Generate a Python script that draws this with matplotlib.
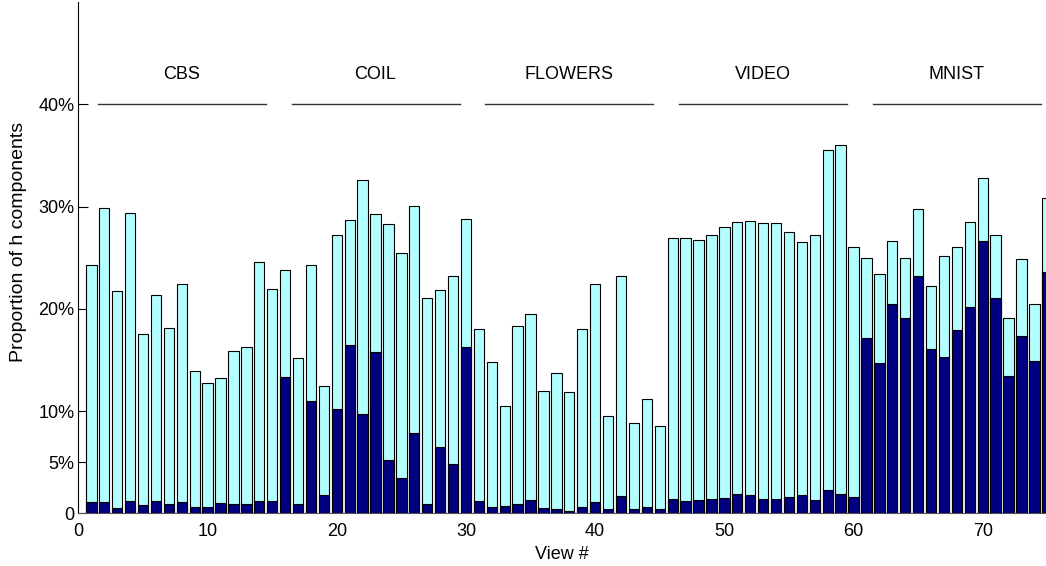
import matplotlib
matplotlib.use("Agg")
import matplotlib.pyplot as plt
import numpy as np

plt.rcParams['font.family'] = ['Liberation Sans', 'DejaVu Sans']

views = list(range(1, 76))
total = [24.27, 29.88, 21.77, 29.42, 17.56, 21.34, 18.15, 22.45, 13.95, 12.77,
         13.26, 15.84, 16.23, 24.60, 21.93,
         23.82, 15.15, 24.31, 12.48, 27.24, 28.64, 32.58, 29.29, 28.28, 25.51,
         30.04, 21.02, 21.86, 23.23, 28.80,
         18.05, 14.79, 10.46, 18.35, 19.52, 11.99, 13.78, 11.83, 18.05, 22.48,
         9.51, 23.23, 8.80, 11.21, 8.54,
         26.95, 26.95, 26.78, 27.21, 28.02, 28.45, 28.58, 28.35, 28.35, 27.53,
         26.49, 27.21, 35.52, 36.00, 26.07,
         24.93, 23.40, 26.59, 25.02, 29.75, 22.25, 25.19, 26.07, 28.51, 32.81,
         27.21, 19.06, 24.89, 20.46, 30.79]
partial = [1.08, 1.14, 0.55, 1.21, 0.78, 1.21, 0.91, 1.14, 0.68, 0.62,
           1.04, 0.88, 0.88, 1.21, 1.21,
           13.33, 0.91, 10.95, 1.76, 10.17, 16.45, 9.71, 15.80, 5.21, 3.49,
           7.82, 0.88, 6.52, 4.86, 16.23,
           1.24, 0.62, 0.72, 0.88, 1.30, 0.49, 0.42, 0.29, 0.65, 1.14,
           0.46, 1.69, 0.39, 0.68, 0.42,
           1.40, 1.21, 1.30, 1.40, 1.53, 1.89, 1.79, 1.40, 1.43, 1.60,
           1.79, 1.30, 2.25, 1.86, 1.60,
           17.17, 14.70, 20.46, 19.09, 23.20, 16.03, 15.25, 17.95, 20.23, 26.62,
           21.11, 13.46, 17.30, 14.89, 23.56]
groups = ["CBS", "COIL", "FLOWERS", "VIDEO", "MNIST"]
group_centers = [8, 23, 38, 53, 68]
yticks = [0, 0.05, 0.10, 0.20, 0.30, 0.40]
ytick_labels = ["0", "5%", "10%", "20%", "30%", "40%"]
xticks = [0, 10, 20, 30, 40, 50, 60, 70]

fig = plt.figure(figsize=(10.46, 5.66), dpi=100)
ax = fig.add_axes([0.075, 0.0928, 0.925, 0.9037])

x = np.array(views)
ax.bar(x, np.array(total) / 100, width=0.8, color='#b3ffff', edgecolor='black', linewidth=0.8, zorder=2)
ax.bar(x, np.array(partial) / 100, width=0.8, color='#000080', edgecolor='black', linewidth=0.8, zorder=3)

for name, c in zip(groups, group_centers):
    ax.plot([c - 6.5, c + 6.5], [0.40, 0.40], color='#333333', linewidth=1.0, zorder=4)
    ax.text(c, 0.429, name, ha='center', va='center', fontsize=13)

ax.set_xlim(0, 74.9)
ax.set_ylim(0, 0.5)
ax.set_yticks(yticks)
ax.set_yticklabels(ytick_labels, fontsize=13)
ax.set_xticks(xticks)
ax.set_xticklabels([str(t) for t in xticks], fontsize=13)
ax.tick_params(axis='y', direction='in', length=7, width=0.8, pad=3)
ax.tick_params(axis='x', length=0, pad=7)
ax.spines['top'].set_visible(False)
ax.spines['right'].set_visible(False)
ax.spines['bottom'].set_color('#555555')
ax.spines['left'].set_linewidth(0.8)
ax.set_ylabel("Proportion of h components", fontsize=14)
ax.yaxis.set_label_coords(-0.053, 0.53)
ax.set_xlabel("View #", fontsize=13, labelpad=4)

fig.savefig("out.png", dpi=100)
